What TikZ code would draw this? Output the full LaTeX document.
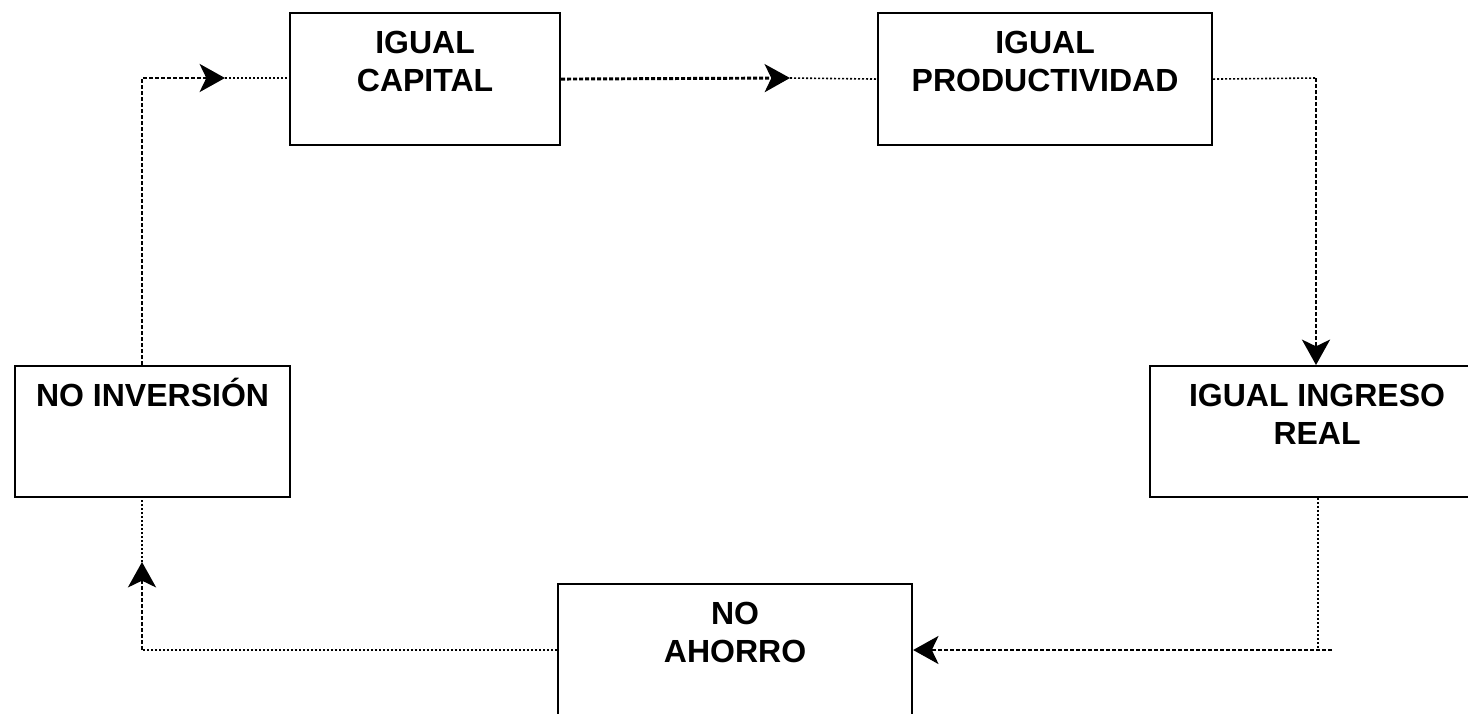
\documentclass[tikz,border=0pt]{standalone}
\usepackage{fontspec}
\setmainfont{Liberation Sans}
\usetikzlibrary{arrows.meta,calc}
\begin{document}
\begin{tikzpicture}[x=0.75pt,y=-0.75pt,
  box/.style={draw=black, line width=1.6pt, rectangle, inner sep=0pt, anchor=north west},
  lbl/.style={font=\fontsize{24}{28.5}\selectfont\bfseries, align=center, inner sep=0pt, anchor=north},
  thinline/.style={line width=1.2pt, dash pattern=on 1.5pt off 1.5pt},
  thickline/.style={line width=2.2pt, dash pattern=on 3pt off 1.5pt},
  tip/.style={-{Stealth[length=19pt,width=21pt,inset=5pt]}}
]
\useasboundingbox (0,0) rectangle (1468,714);
\fill[white] (0,0) rectangle (1468,714);
\clip (0,0) rectangle (1468,714);

% boxes
\node[box, minimum width=206.25pt, minimum height=98.25pt] (inv) at (14,365) {};
\node[box, minimum width=202.5pt, minimum height=99pt] (cap) at (289,12) {};
\node[box, minimum width=250.5pt, minimum height=99pt] (prod) at (877,12) {};
\node[box, minimum width=250.5pt, minimum height=98.25pt] (ing) at (1149,365) {};
\node[box, minimum width=265.5pt, minimum height=98.25pt] (aho) at (557,583) {};

% labels
\node[lbl] (invt) at ($(inv.north)+(0,9)$) {\rule{0pt}{24pt}NO INVERSIÓN};
\node[lbl] (capt) at ($(cap.north)+(0,9)$) {\rule{0pt}{24pt}IGUAL\\CAPITAL};
\node[lbl] (prodt) at ($(prod.north)+(0,9)$) {\rule{0pt}{24pt}IGUAL\\PRODUCTIVIDAD};
\node[lbl] (ingt) at ($(ing.north)+(0,9)$) {\rule{0pt}{24pt}IGUAL INGRESO\\REAL};
\node[lbl] (ahot) at ($(aho.north)+(0,9)$) {\rule{0pt}{24pt}NO\\AHORRO};

% helper coordinates
\coordinate (c1) at (142,78);
\coordinate (t1) at (225,78);
\coordinate (t2) at (790,78);
\coordinate (c3) at (1316,78);
\coordinate (c4) at (1318,650);
\coordinate (c4b) at (1332,650);
\coordinate (c5) at (142,650);
\coordinate (t5) at (142,562);

% edge 1: NO INVERSION -> IGUAL CAPITAL
\draw[thickline,tip] (inv.north -| c1) -- (c1) -- (t1);
\draw[thinline] (t1) -- (cap.west |- t1);
% edge 2: IGUAL CAPITAL -> IGUAL PRODUCTIVIDAD
\draw[thickline,tip] (cap.east) -- (t2);
\draw[thinline] (t2) -- (prod.west);
% edge 3: IGUAL PRODUCTIVIDAD -> IGUAL INGRESO REAL
\draw[thinline] (prod.east) -- (c3);
\draw[thickline,tip] (c3) -- (ing.north -| c3);
% edge 4: IGUAL INGRESO REAL -> NO AHORRO
\draw[thinline] (ing.south -| c4) -- (c4);
\draw[thickline,tip] (c4b) -- (aho.east |- c4);
% edge 5: NO AHORRO -> NO INVERSION
\draw[thinline] (aho.west |- c5) -- (c5);
\draw[thickline,tip] (c5) -- (t5);
\draw[thinline] (t5) -- (inv.south -| t5);
\end{tikzpicture}
\end{document}
